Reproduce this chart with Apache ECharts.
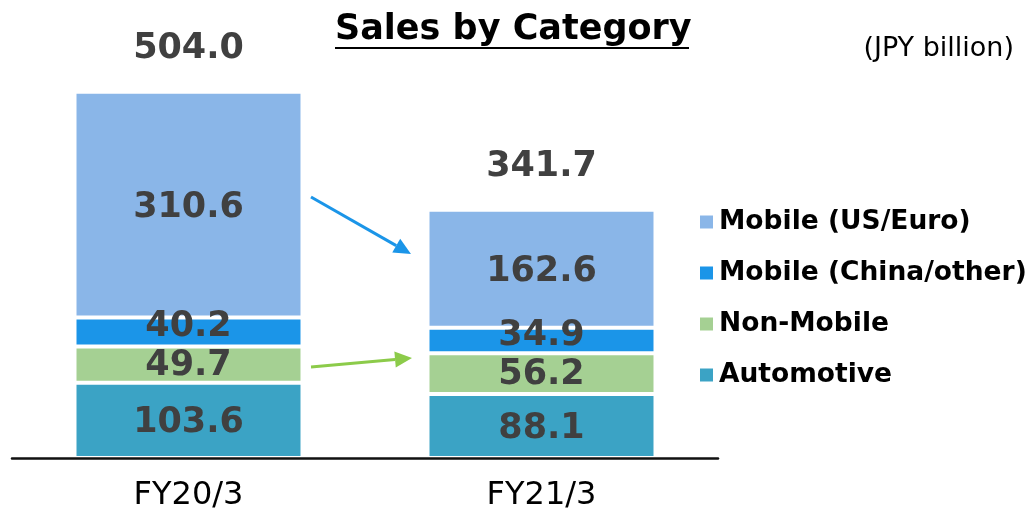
<!DOCTYPE html>
<html>
<head>
<meta charset="utf-8">
<title>Sales by Category</title>
<script src="https://cdn.jsdelivr.net/npm/echarts@6/dist/echarts.min.js"></script>
<style>
  html, body { margin: 0; padding: 0; background: #fff; }
  #chart { width: 1036px; height: 509px; }
</style>
</head>
<body>
<div id="chart"></div>
<script>
// data (JPY billion)
var categories = ['FY20/3', 'FY21/3'];
var automotive = [103.6, 88.1];
var nonMobile = [49.7, 56.2];
var mobileChina = [40.2, 34.9];
var mobileUsEuro = [310.6, 162.6];
var totals = [504.0, 341.7];

var legendNames = ['Mobile (US/Euro)', 'Mobile (China/other)', 'Non-Mobile', 'Automotive'];

var FONT = '"DejaVu Sans", Verdana, sans-serif';
var LABEL_COLOR = '#404040';

function segment(name, data, color, offsetY) {
  return {
    name: name,
    type: 'bar',
    stack: 'sales',
    barWidth: 228,
    data: data,
    itemStyle: { color: color, borderColor: '#fff', borderWidth: 2 },
    label: {
      show: true,
      position: 'inside',
      offset: [0, offsetY || 0],
      formatter: function (p) { return p.value.toFixed(1); },
      color: LABEL_COLOR,
      fontFamily: FONT,
      fontWeight: 'bold',
      fontSize: 35
    },
    emphasis: { disabled: true }
  };
}

// arrow annotation between the two bars
function arrow(x1, y1, x2, y2, color) {
  var ang = Math.atan2(y2 - y1, x2 - x1);
  var len = 17, half = 8;
  var bx = x2 - len * Math.cos(ang), by = y2 - len * Math.sin(ang);
  var px = -Math.sin(ang) * half, py = Math.cos(ang) * half;
  return {
    type: 'group',
    children: [
      { type: 'line', shape: { x1: x1, y1: y1, x2: bx, y2: by }, style: { stroke: color, lineWidth: 3 } },
      { type: 'polygon', shape: { points: [[x2, y2], [bx + px, by + py], [bx - px, by - py]] }, style: { fill: color } }
    ]
  };
}

var chart = echarts.init(document.getElementById('chart'));
chart.setOption({
  animation: false,
  backgroundColor: '#fff',
  grid: { left: 12, right: 318, top: 22, bottom: 51, containLabel: false, outerBoundsMode: 'none' },
  legend: {
    data: legendNames,
    orient: 'vertical',
    left: 693,
    top: 202,
    itemWidth: 15,
    itemHeight: 15,
    itemGap: 21,
    icon: 'rect',
    selectedMode: false,
    textStyle: { color: '#000', fontFamily: FONT, fontWeight: 'bold', fontSize: 26.5, lineHeight: 30 }
  },
  xAxis: {
    type: 'category',
    data: categories,
    z: 5,
    axisLine: { lineStyle: { color: '#111', width: 2.5 } },
    axisTick: { show: false },
    axisLabel: { color: '#000', fontFamily: FONT, fontSize: 32, margin: 22 }
  },
  yAxis: {
    type: 'value',
    min: 0,
    max: 600,
    show: false,
    splitLine: { show: false }
  },
  series: [
    segment('Automotive', automotive, '#3BA3C5', 3),
    segment('Non-Mobile', nonMobile, '#A5D093', 1),
    segment('Mobile (China/other)', mobileChina, '#1B95E8', -5),
    segment('Mobile (US/Euro)', mobileUsEuro, '#8AB6E8', 3),
    {
      name: 'Total',
      type: 'scatter',
      data: totals,
      symbolSize: 0,
      itemStyle: { opacity: 1 },
      label: {
        show: true,
        position: 'top',
        distance: 25,
        opacity: 1,
        formatter: function (p) { return p.value.toFixed(1); },
        color: LABEL_COLOR,
        fontFamily: FONT,
        fontWeight: 'bold',
        fontSize: 35
      },
      emphasis: { disabled: true }
    }
  ],
  graphic: [
    {
      type: 'text',
      left: 335,
      top: 12,
      style: { text: 'Sales by Category', fill: '#000', font: 'bold 35px ' + FONT }
    },
    { type: 'line', shape: { x1: 335, y1: 48, x2: 689, y2: 48 }, style: { stroke: '#000', lineWidth: 2 } },
    {
      type: 'text',
      right: 22,
      top: 35,
      style: { text: '(JPY billion)', fill: '#000', font: '27px ' + FONT }
    },
    arrow(311, 197, 411, 254, '#1B95E8'),
    arrow(311, 367, 412, 358, '#8CCB4A')
  ]
});
</script>
</body>
</html>
